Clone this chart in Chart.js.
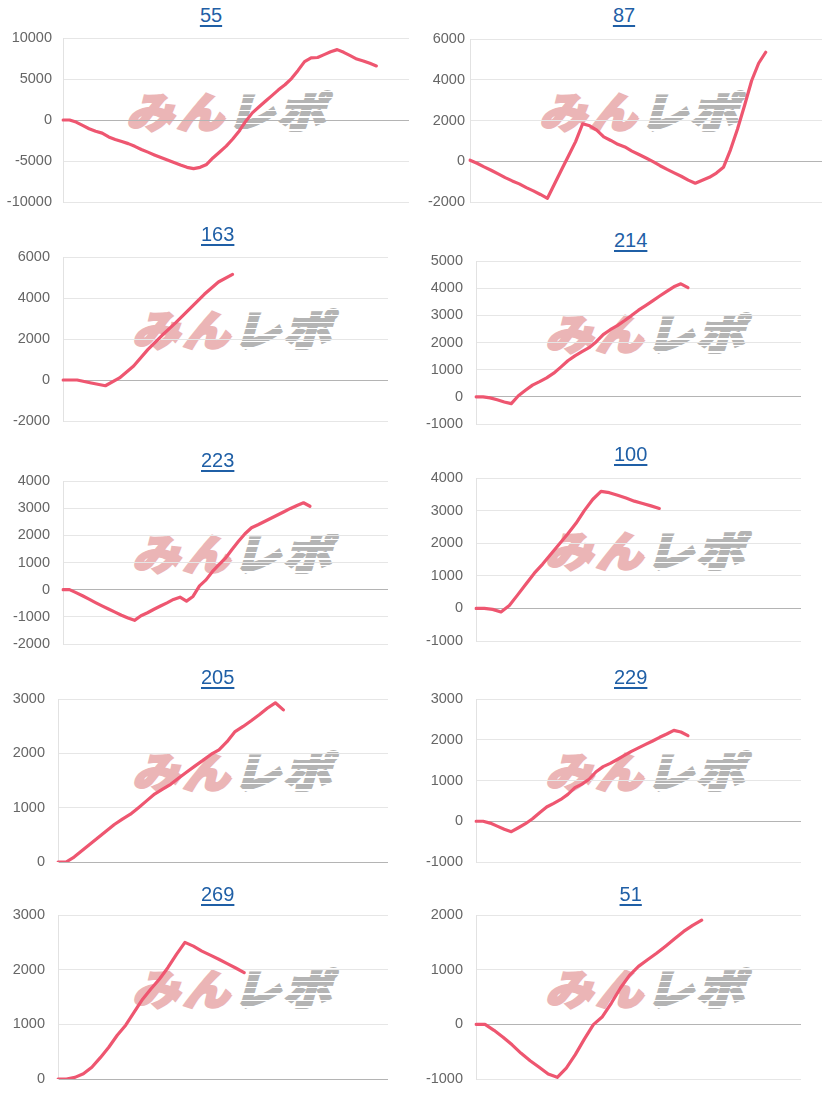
<!DOCTYPE html>
<html>
<head>
<meta charset="utf-8">
<script src="https://cdn.jsdelivr.net/npm/chart.js@4.4.1/dist/chart.umd.min.js"></script>
<style>
html,body{margin:0;padding:0;background:#fff;}
body{width:826px;height:1095px;overflow:hidden;position:relative;font-family:"Liberation Sans",Arial,sans-serif;}
.title{position:absolute;width:200px;margin-left:-100px;text-align:center;font-size:20px;line-height:24px;}
.title a{color:#1f5fa6;text-decoration:underline;text-decoration-thickness:1.5px;text-underline-offset:3px;}
.wm{position:absolute;white-space:nowrap;font-family:"Noto Sans CJK JP",sans-serif;font-weight:900;font-size:42px;line-height:42px;letter-spacing:3px;transform:translate(-50%,-50%) skewX(-16deg) scaleX(1.12);}
.wm .a{color:#ebb5b6;-webkit-text-stroke:2.5px #ebb5b6;}
.wm .b{position:relative;color:#b4b4b4;-webkit-text-stroke:2.5px #b4b4b4;}
.wm .b::after{content:"";position:absolute;left:-4px;right:-4px;top:0;bottom:0;background:repeating-linear-gradient(180deg,rgba(255,255,255,0) 0px,rgba(255,255,255,0) 5px,#fff 5px,#fff 6.5px);}
canvas{position:absolute;}
</style>
</head>
<body>
<script>
// ---- data ----
const titles = ["55","87","163","214","223","100","205","229","269","51"];

const xCount55 = 54;
const values55 = [0,0,-250,-660,-1070,-1370,-1600,-2070,-2370,-2620,-2880,-3210,-3590,-3920,-4260,-4580,-4890,-5190,-5490,-5770,-5930,-5770,-5420,-4600,-3900,-3190,-2320,-1330,-150,870,1580,2290,2970,3680,4300,5050,6050,7120,7580,7620,7970,8320,8580,8250,7850,7430,7200,6910,6590];
const yTicks55 = [-10000,-5000,0,5000,10000];

const xCount87 = 51;
const values87 = [50,-100,-275,-440,-620,-805,-965,-1110,-1295,-1455,-1630,-1820,-1120,-420,270,965,1840,1740,1525,1195,1020,830,700,500,330,160,-20,-220,-400,-570,-735,-925,-1080,-935,-790,-580,-300,560,1580,2740,3950,4810,5350];
const yTicks87 = [-2000,0,2000,4000,6000];

const xCount163 = 24;
const values163 = [0,0,-145,-280,100,680,1480,2170,2810,3490,4180,4780,5150];
const yTicks163 = [-2000,0,2000,4000,6000];

const xCount214 = 47;
const values214 = [0,0,-40,-110,-190,-250,40,240,430,560,700,870,1095,1330,1510,1660,1810,2020,2290,2470,2620,2800,2990,3190,3360,3535,3710,3880,4050,4160,4020];
const yTicks214 = [-1000,0,1000,2000,3000,4000,5000];

const xCount223 = 51;
const values223 = [0,0,-110,-225,-350,-475,-595,-710,-825,-940,-1045,-1130,-960,-850,-720,-600,-485,-360,-275,-420,-250,140,360,670,920,1160,1480,1780,2060,2280,2390,2510,2630,2750,2870,2990,3100,3200,3070];
const yTicks223 = [-2000,-1000,0,1000,2000,3000,4000];

const xCount100 = 40;
const values100 = [0,0,-30,-110,90,415,750,1080,1360,1670,1975,2280,2610,3000,3340,3590,3550,3470,3385,3290,3220,3145,3065];
const yTicks100 = [-1000,0,1000,2000,3000,4000];

const xCount205 = 42;
const values205 = [0,0,90,210,330,450,570,690,790,880,1000,1125,1250,1340,1430,1545,1655,1765,1870,1980,2065,2215,2400,2495,2600,2710,2830,2930,2800];
const yTicks205 = [0,1000,2000,3000];

const xCount229 = 47;
const values229 = [0,0,-45,-120,-195,-255,-160,-60,60,210,350,440,535,660,825,910,1030,1215,1340,1420,1515,1615,1715,1800,1885,1970,2060,2140,2230,2190,2100];
const yTicks229 = [-1000,0,1000,2000,3000];

const xCount269 = 40;
const values269 = [0,0,30,95,215,390,580,800,985,1225,1460,1650,1830,2040,2280,2500,2430,2340,2265,2190,2110,2030,1945];
const yTicks269 = [0,1000,2000,3000];

const xCount51 = 37;
const values51 = [0,0,-110,-235,-375,-530,-665,-785,-910,-970,-800,-555,-270,-5,140,390,665,895,1060,1180,1300,1430,1565,1700,1810,1905];
const yTicks51 = [-1000,0,1000,2000];

const dataSets = {
  "55":[xCount55,values55,yTicks55], "87":[xCount87,values87,yTicks87],
  "163":[xCount163,values163,yTicks163], "214":[xCount214,values214,yTicks214],
  "223":[xCount223,values223,yTicks223], "100":[xCount100,values100,yTicks100],
  "205":[xCount205,values205,yTicks205], "229":[xCount229,values229,yTicks229],
  "269":[xCount269,values269,yTicks269], "51":[xCount51,values51,yTicks51]
};

// ---- layout (page positions of each panel) ----
const layout = {
  "55": {L:63,T:38,R:409,B:202,tx:211,ty:15,wx:231.5,wy:109.5,pad:11},
  "87": {L:470,T:39,R:822,B:202,tx:624,ty:15,wx:644.5,wy:109.5,pad:5},
  "163":{L:63,T:257,R:388,B:421,tx:217.7,ty:233.7,wx:237.5,wy:327.5,pad:13},
  "214":{L:476,T:261,R:801,B:424,tx:630.7,ty:240,wx:650.5,wy:331.5,pad:13},
  "223":{L:63,T:481,R:388,B:644,tx:217.7,ty:460,wx:237.5,wy:551.5,pad:13},
  "100":{L:476,T:478,R:801,B:641,tx:630.7,ty:454,wx:650.5,wy:548.5,pad:13},
  "205":{L:58,T:699,R:388,B:862,tx:217.7,ty:676.7,wx:237.5,wy:769.5,pad:13},
  "229":{L:476,T:699,R:801,B:862,tx:630.7,ty:676.7,wx:650.5,wy:769.5,pad:13},
  "269":{L:58,T:915,R:388,B:1079,tx:217.7,ty:893.7,wx:237.5,wy:986.5,pad:13},
  "51": {L:476,T:915,R:801,B:1079,tx:630.7,ty:894,wx:650.5,wy:986.5,pad:13}
};

const AXW = 60, PADV = 26;
const LINE = '#ee5670';

titles.forEach(name => {
  const p = layout[name];
  const [xCount, values, yTicks] = dataSets[name];

  const wm = document.createElement('div');
  wm.className = 'wm';
  wm.style.left = p.wx + 'px';
  wm.style.top = p.wy + 'px';
  wm.innerHTML = '<span class="a">みん</span><span class="b">レポ</span>';
  document.body.appendChild(wm);

  const t = document.createElement('div');
  t.className = 'title';
  t.style.left = p.tx + 'px';
  t.style.top = (p.ty - 12) + 'px';
  t.innerHTML = '<a href="#">' + name + '</a>';
  document.body.appendChild(t);

  const c = document.createElement('canvas');
  const w = AXW + (p.R - p.L), h = (p.B - p.T) + 2 * PADV;
  c.width = w; c.height = h;
  c.style.width = w + 'px'; c.style.height = h + 'px';
  c.style.left = (p.L - AXW) + 'px';
  c.style.top = (p.T - PADV) + 'px';
  document.body.appendChild(c);

  const labels = Array.from({length: xCount}, (_, i) => String(i + 1));

  new Chart(c.getContext('2d'), {
    type: 'line',
    data: {
      labels: labels,
      datasets: [{
        data: values,
        borderColor: LINE,
        backgroundColor: LINE,
        borderWidth: 3.2,
        pointRadius: 0,
        pointHoverRadius: 0,
        fill: false,
        tension: 0,
        borderJoinStyle: 'round',
        borderCapStyle: 'round'
      }]
    },
    options: {
      responsive: false,
      animation: false,
      devicePixelRatio: 1,
      layout: {padding: {left: 0, right: 0, top: PADV, bottom: PADV}},
      plugins: {legend: {display: false}, title: {display: false}, tooltip: {enabled: false}},
      scales: {
        x: {display: false},
        y: {
          min: yTicks[0],
          max: yTicks[yTicks.length - 1],
          afterBuildTicks: axis => { axis.ticks = yTicks.map(v => ({value: v})); },
          afterFit: axis => { axis.width = AXW; },
          border: {display: true, color: '#e2e2e2', width: 1},
          grid: {
            drawTicks: false,
            color: ctx => (ctx.tick && ctx.tick.value === 0) ? '#b4b4b4' : '#e6e6e6',
            lineWidth: 1
          },
          ticks: {
            padding: p.pad,
            color: '#666',
            font: {family: '"Liberation Sans", Arial, sans-serif', size: 14.5},
            callback: v => String(v)
          }
        }
      }
    }
  });
});
</script>
</body>
</html>
